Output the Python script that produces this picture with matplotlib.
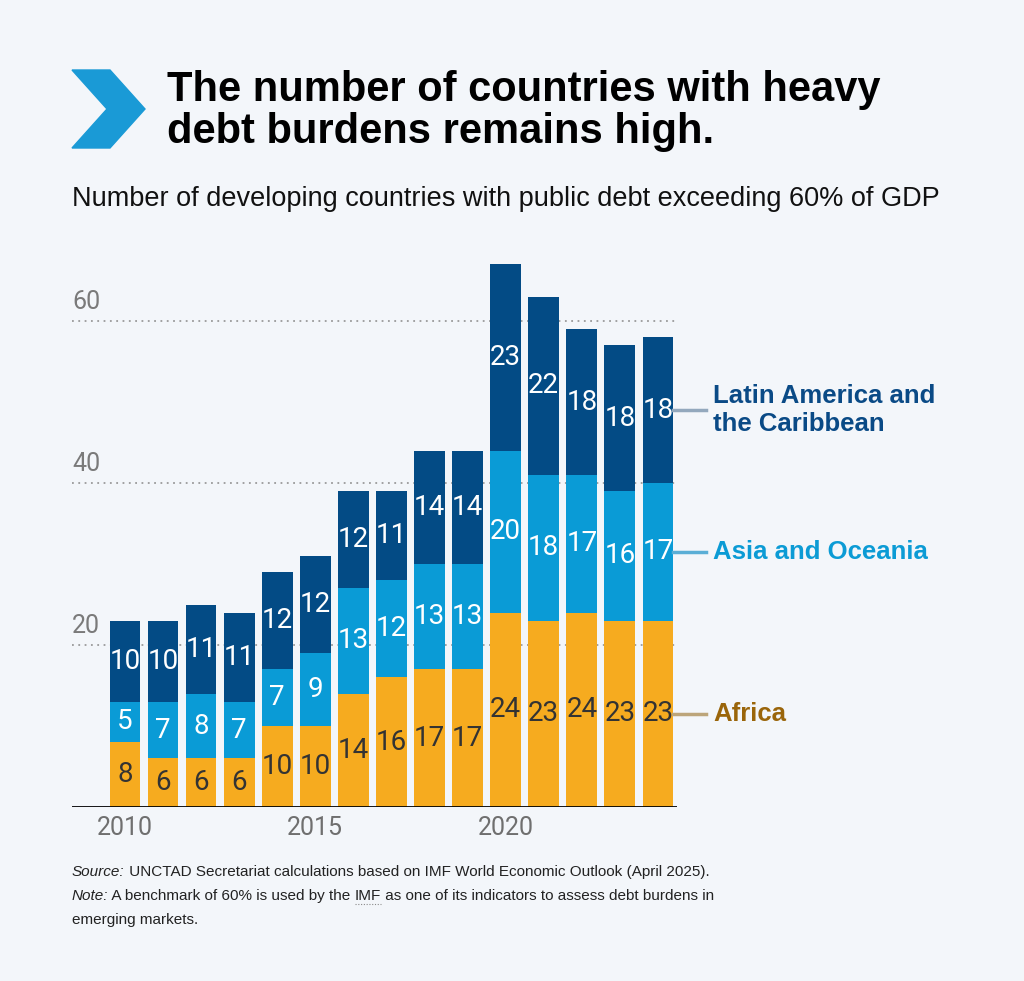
import matplotlib as mpl
import matplotlib.pyplot as plt
from matplotlib.patches import Polygon
from matplotlib.lines import Line2D

mpl.rcParams['font.family'] = ['Liberation Sans', 'DejaVu Sans']

years = list(range(2010, 2025))
africa = [8, 6, 6, 6, 10, 10, 14, 16, 17, 17, 24, 23, 24, 23, 23]
asia = [5, 7, 8, 7, 7, 9, 13, 12, 13, 13, 20, 18, 17, 16, 17]
latam = [10, 10, 11, 11, 12, 12, 12, 11, 14, 14, 23, 22, 18, 18, 18]
yticks = [20, 40, 60]
xticks = [2010, 2015, 2020]
series_names = ['Africa', 'Asia and Oceania', 'Latin America and\nthe Caribbean']

bg = '#f3f6fa'
c_af, c_as, c_la = '#f6ab1f', '#0a9bd6', '#034b85'
c_af_txt, c_as_txt, c_la_txt = '#9a650a', '#0b9bd5', '#0a4a86'
light = ['Roboto', 'Liberation Sans', 'DejaVu Sans']

W, H = 1024, 981
fig = plt.figure(figsize=(W / 100, H / 100), dpi=100, facecolor=bg)

def fx(px):
    return px / W

def fy(py):
    return 1 - py / H

# chevron
chev = Polygon([(fx(72), fy(70)), (fx(110), fy(70)), (fx(145), fy(109)),
                (fx(110), fy(148)), (fx(72), fy(148)), (fx(107), fy(109))],
               closed=True, transform=fig.transFigure, color='#1a9ad6')
fig.patches.append(chev)

fig.text(fx(167), fy(111), 'The number of countries with heavy\ndebt burdens remains high.',
         fontsize=30, fontweight='bold', color='black', va='center', ha='left',
         linespacing=1.08)
fig.text(fx(72), fy(199), 'Number of developing countries with public debt exceeding 60% of GDP',
         fontsize=19.5, color='#111111', va='center', ha='left')

ymax = 70
ax = fig.add_axes([fx(72), fy(807), fx(677) - fx(72), (807 - 240) / H])
ax.set_facecolor(bg)
ax.set_xlim(2008.61, 2024.5)
ax.set_ylim(0, ymax)
for s in ax.spines.values():
    s.set_visible(False)
ax.set_xticks([])
ax.set_yticks([])

for v in yticks:
    ax.axhline(v, color='#9a9a9a', lw=1.3, ls=(0, (1, 2.5)), zorder=0)
    ax.annotate(str(v), (2008.61, v), xytext=(0, 5), textcoords='offset points',
                fontsize=18, color='#7a7a7a', ha='left', va='bottom', family=light)

bw = 0.81
b1 = [a for a in africa]
b2 = [a + s for a, s in zip(africa, asia)]
ax.bar(years, africa, bw, color=c_af, zorder=2)
ax.bar(years, asia, bw, bottom=b1, color=c_as, zorder=2)
ax.bar(years, latam, bw, bottom=b2, color=c_la, zorder=2)
ax.axhline(0, color='black', lw=2, zorder=3)

for i, yr in enumerate(years):
    kw = dict(ha='center', va='center', fontsize=20, zorder=4, family=light)
    ax.text(yr, africa[i] / 2, str(africa[i]), color='#333333', **kw)
    ax.text(yr, b1[i] + asia[i] / 2, str(asia[i]), color='white', **kw)
    ax.text(yr, b2[i] + latam[i] / 2, str(latam[i]), color='white', **kw)

for t in xticks:
    ax.text(t, -2.6, str(t), ha='center', va='center', fontsize=18, color='#6f6f6f',
            family=light)

# series labels beside the last bar
last = len(years) - 1
mids = [africa[last] / 2, b1[last] + asia[last] / 2, b2[last] + latam[last] / 2]
cols = [c_af_txt, c_as_txt, c_la_txt]
lcols = ['#bca57a', '#5aaed6', '#93a8bd']
for name, m, c, lc in zip(series_names, mids, cols, lcols):
    ax.add_line(Line2D([years[last] + bw / 2, years[last] + bw / 2 + 0.85], [m, m],
                       color=lc, lw=2.5, clip_on=False))
    ax.text(years[last] + bw / 2 + 1.05, m, name, ha='left', va='center', fontsize=18.5,
            fontweight='bold', color=c, clip_on=False, linespacing=1.2)

# footnotes
fs = 11
renderer = fig.canvas.get_renderer()

def chain(pieces, py):
    x = fx(72)
    out = []
    for txt, style in pieces:
        t = fig.text(x, fy(py), txt, fontsize=fs, style=style, color='#222222',
                     ha='left', va='center')
        bb = t.get_window_extent(renderer)
        out.append(bb)
        x = bb.x1 / W
    return out

chain([('Source:', 'italic'),
       (' UNCTAD Secretariat calculations based on IMF World Economic Outlook (April 2025).', 'normal')], 872)
bbs = chain([('Note:', 'italic'), (' A benchmark of 60% is used by the ', 'normal'),
             ('IMF', 'normal'),
             (' as one of its indicators to assess debt burdens in', 'normal')], 896)
imf = bbs[2]
fig.add_artist(Line2D([imf.x0 / W, imf.x1 / W], [(imf.y0 - 1) / H] * 2,
                      transform=fig.transFigure, color='#8a8a8a', lw=0.8, ls=(0, (1, 1.5))))
chain([('emerging markets.', 'normal')], 920)

fig.savefig('out.png', dpi=100, facecolor=bg)
